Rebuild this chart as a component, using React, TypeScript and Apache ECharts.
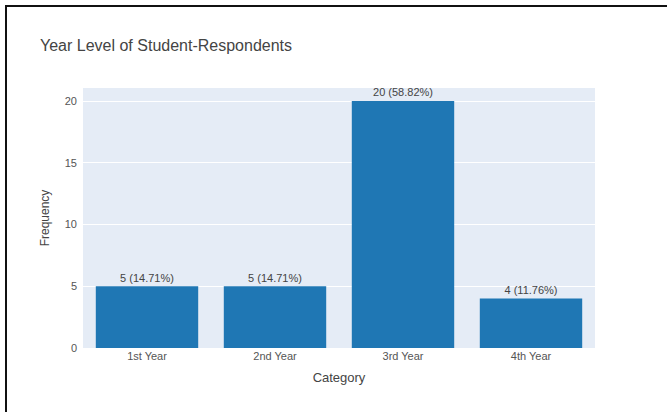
import React, { useEffect, useRef } from "react";
import * as echarts from "echarts";

const categories = ["1st Year", "2nd Year", "3rd Year", "4th Year"];
const frequencies = [5, 5, 20, 4];
const yTicks = [0, 5, 10, 15, 20];

export default function App() {
  const ref = useRef<HTMLDivElement>(null);
  useEffect(() => {
    document.body.style.margin = "0";
    if (!ref.current) return;
    const chart = echarts.init(ref.current, null, { renderer: "svg" });
    const total = frequencies.reduce((a, b) => a + b, 0);
    const font = "'Liberation Sans', Arial, sans-serif";
    const textColor = "#444444";
    chart.setOption({
      animation: false,
      backgroundColor: "#ffffff",
      title: {
        text: "Year Level of Student-Respondents",
        left: 35,
        top: 32,
        textStyle: { fontFamily: font, fontSize: 16, fontWeight: "normal", color: textColor },
      },
      grid: {
        left: 83,
        right: 72,
        top: 88,
        bottom: 64,
        show: true,
        backgroundColor: "#E5ECF6",
        borderWidth: 0,
      },
      xAxis: {
        type: "category",
        data: categories,
        name: "Category",
        nameLocation: "middle",
        nameGap: 23,
        nameTextStyle: { fontFamily: font, fontSize: 13, color: textColor },
        axisLine: { show: false },
        axisTick: { show: false },
        axisLabel: { fontFamily: font, fontSize: 11, color: "#555555", margin: 2 },
      },
      yAxis: {
        type: "value",
        min: 0,
        max: 21.05,
        interval: 5,
        name: "Frequency",
        nameLocation: "middle",
        nameGap: 32,
        nameTextStyle: { fontFamily: font, fontSize: 12, color: textColor },
        axisLine: { show: false },
        axisTick: { show: false },
        axisLabel: {
          fontFamily: font,
          fontSize: 11,
          color: "#555555",
          margin: 6,
          showMaxLabel: false,
          formatter: (v: number) => (yTicks.includes(v) ? String(v) : ""),
        },
        splitLine: { lineStyle: { color: "#ffffff", width: 1 }, showMaxLine: false },
      },
      series: [
        {
          type: "bar",
          data: frequencies,
          barCategoryGap: "20%",
          itemStyle: { color: "#1f77b4" },
          label: {
            show: true,
            position: "top",
            distance: 3,
            fontFamily: font,
            fontSize: 11,
            color: "#444444",
            formatter: (p: any) => `${p.value} (${((p.value / total) * 100).toFixed(2)}%)`,
          },
        },
      ],
    });
    return () => chart.dispose();
  }, []);
  return (
    <div style={{ position: "relative", width: 667, height: 412, overflow: "hidden" }}>
      <div ref={ref} style={{ width: 667, height: 412 }} />
      <div
        style={{
          position: "absolute",
          left: 5,
          top: 5,
          width: 700,
          height: 500,
          borderTop: "2px solid #111",
          borderLeft: "2px solid #111",
          pointerEvents: "none",
        }}
      />
    </div>
  );
}
